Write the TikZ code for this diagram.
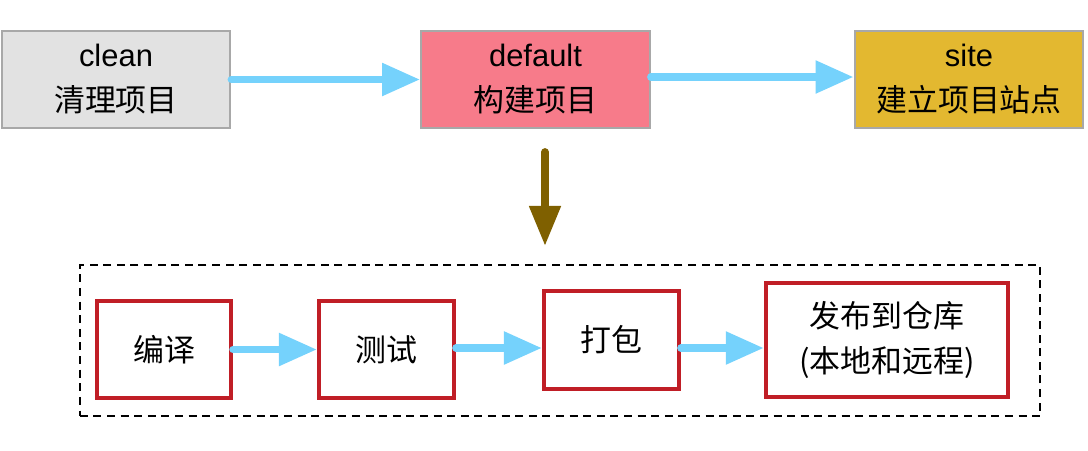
\documentclass[tikz,border=0pt]{standalone}
\usepackage{fontspec}
\setmainfont{Liberation Sans}
\newfontfamily\cjk{Noto Sans CJK SC}
\usetikzlibrary{arrows.meta}
\definecolor{flowblue}{RGB}{117,210,252}
\definecolor{phasegray}{RGB}{226,226,226}
\definecolor{phaseedge}{RGB}{168,168,168}
\definecolor{phasepink}{RGB}{247,123,138}
\definecolor{phasegold}{RGB}{227,184,48}
\definecolor{stepred}{RGB}{192,30,38}
\definecolor{downbrown}{RGB}{127,96,0}

\begin{document}
\begin{tikzpicture}[x=0.025cm,y=-0.025cm,
  phase/.style={draw=phaseedge, line width=1.4pt, minimum width=5.72cm, minimum height=2.42cm, align=center, font=\fontsize{22}{32}\selectfont, inner sep=0pt},
  stepbox/.style={draw=stepred, line width=3pt, minimum height=2.42cm, align=center, font=\fontsize{22}{32}\selectfont\cjk, inner sep=0pt},
  flow/.style={draw=flowblue, line width=5.5pt, line cap=round, -{Triangle[length=0.95cm,width=0.78cm]}}]
\useasboundingbox (0,0) rectangle (1088,450);
\node (clean) at (116,79.5) [phase, fill=phasegray] {clean\\{\cjk 清理项目}};
\node (default) at (535.5,79.5) [phase, fill=phasepink] {default\\{\cjk 构建项目}};
\node (site) at (969,79.5) [phase, fill=phasegold] {site\\{\cjk 建立项目站点}};
\node (build) at (560,340.5) [draw, dash pattern=on 0.2cm off 0.14cm, line width=1.5pt, minimum width=24cm, minimum height=3.78cm] {};
\node (compile) at (164,349.5) [stepbox, minimum width=3.35cm] {编译};
\node (test) at (386.5,349.5) [stepbox, minimum width=3.37cm] {测试};
\node (package) at (611.5,340) [stepbox, minimum width=3.37cm, minimum height=2.45cm] {打包};
\node (deploy) at (887,340) [stepbox, minimum width=6.05cm, minimum height=2.85cm] {发布到仓库\\(本地和远程)};
\coordinate (down1) at (545,152);
\coordinate (down2) at (545,246);
\draw[flow]
(clean) to (default);
\draw[flow] (default.east |- 0,77) to (site.west |- 0,77);
\draw[flow] (compile) to (test);
\draw[flow] (test.east |- 0,348) to (package.west |- 0,348);
\draw[flow] (package.east |- 0,348) to (deploy.west |- 0,348);
\draw[downbrown, line width=5.5pt, line cap=round, -{Triangle[length=1cm,width=0.75cm]}]
(down1) to (down2);
\end{tikzpicture}
\end{document}
